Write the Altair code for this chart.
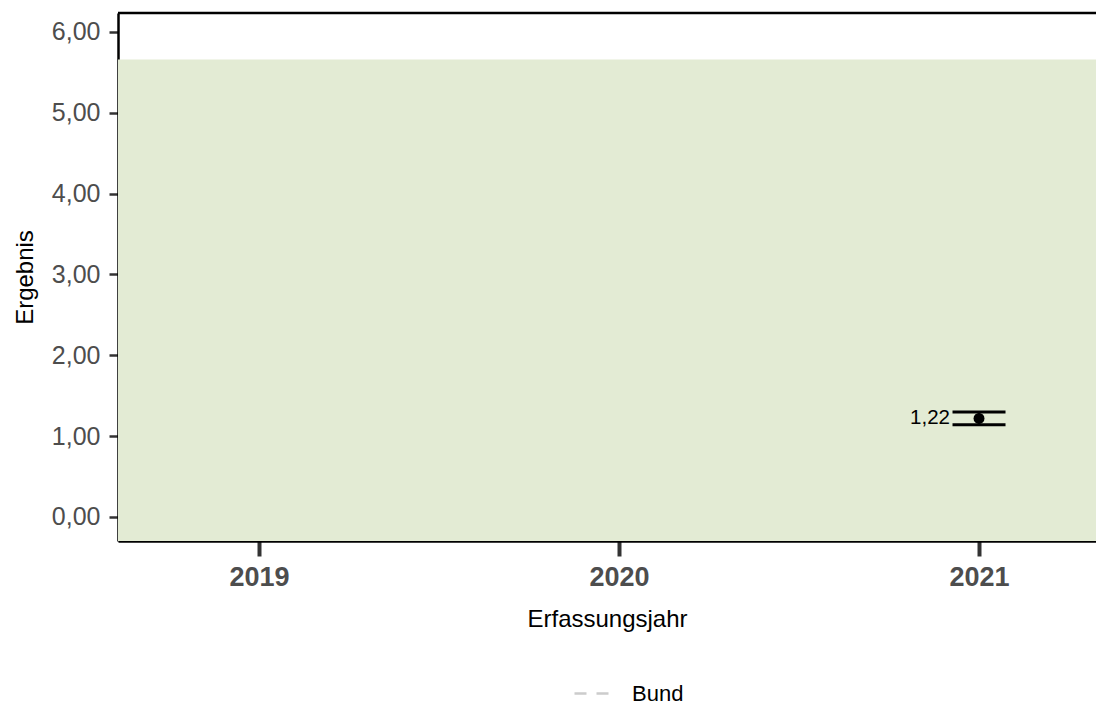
import altair as alt
import pandas as pd

# data
years = [2021]
values = [1.22]
lower = [1.14]
upper = [1.30]
band_low = [-1.0]
band_high = [5.66]
legend_series = ["Bund"]
x_ticks = [2019, 2020, 2021]
y_ticks = [0, 1, 2, 3, 4, 5, 6]

W, H = 978, 528
x_dom = [2018.608, 2021.325]
y_dom = [-0.297, 6.235]

pts = pd.DataFrame({"jahr": years, "wert": values, "lo": lower, "hi": upper})
band = pd.DataFrame({"x0": [1990.0], "x1": [2050.0], "y0": band_low, "y1": band_high})
leg = pd.DataFrame({"jahr": [2019.0], "wert": [None], "serie": legend_series})

xs = alt.Scale(domain=x_dom, nice=False, zero=False)
ys = alt.Scale(domain=y_dom, nice=False, zero=False)

x_axis = alt.Axis(values=x_ticks, labelExpr="format(datum.value, '.0f')", title="Erfassungsjahr")
y_axis = alt.Axis(values=y_ticks, labelExpr="replace(format(datum.value, '.2f'), '.', ',')", title="Ergebnis")


def X(f):
    return alt.X(f, scale=xs, axis=x_axis)


def Y(f):
    return alt.Y(f, scale=ys, axis=y_axis)


rect = alt.Chart(band).mark_rect(color="#e3ebd4", clip=True).encode(
    x=X("x0:Q"), x2="x1:Q", y=Y("y0:Q"), y2="y1:Q")

legend_line = alt.Chart(leg).mark_line(strokeWidth=2).encode(
    x=X("jahr:Q"),
    y=Y("wert:Q"),
    color=alt.Color("serie:N", scale=alt.Scale(domain=legend_series, range=["#cccccc"]),
                    legend=alt.Legend(title=None, orient="none", legendX=455, legendY=662,
                                      symbolType="stroke", symbolSize=1156, symbolDash=[12, 10],
                                      symbolStrokeWidth=2.5, symbolStrokeColor="#cccccc",
                                      labelFontSize=22, labelColor="#000000",
                                      labelOffset=22, padding=0)),
)

vline = alt.Chart(pts).mark_rule(color="black", strokeWidth=2.5, opacity=1).encode(
    x=X("jahr:Q"), y=Y("lo:Q"), y2="hi:Q")
cap_lo = alt.Chart(pts).mark_tick(color="black", orient="horizontal", size=53, thickness=3, opacity=1).encode(
    x=X("jahr:Q"), y=Y("lo:Q"))
cap_hi = alt.Chart(pts).mark_tick(color="black", orient="horizontal", size=53, thickness=3, opacity=1).encode(
    x=X("jahr:Q"), y=Y("hi:Q"))
point = alt.Chart(pts).mark_circle(color="black", opacity=1, size=120).encode(
    x=X("jahr:Q"), y=Y("wert:Q"))
label = alt.Chart(pts).transform_calculate(
    txt="replace(format(datum.wert, '.2f'), '.', ',')"
).mark_text(align="right", baseline="middle", dx=-29, fontSize=20.5, color="black", font="Liberation Sans").encode(
    x=X("jahr:Q"), y=Y("wert:Q"), text="txt:N")

top_rule = alt.Chart(pts).mark_rule(color="black", strokeWidth=2.5).encode(
    x=alt.value(0), x2=alt.value(W), y=alt.value(0))

chart = alt.layer(rect, legend_line, vline, cap_lo, cap_hi, point, label, top_rule).properties(
    width=W, height=H,
    autosize=alt.AutoSizeParams(type="none"),
    padding={"left": 110, "top": 5, "right": 0, "bottom": 163},
).configure_view(stroke=None).configure(font="Liberation Sans").configure_axisX(
    labelFontWeight="bold", labelFontSize=27, labelColor="#4d4d4d", labelPadding=8,
    tickSize=15, tickWidth=4, tickColor="#333333", domainColor="#000000", domainWidth=2.5,
    titleFontSize=24, titleFontWeight="normal", titleColor="#000000", titlePadding=17,
    grid=False,
).configure_axisY(
    labelFontSize=25, labelColor="#4d4d4d", labelPadding=9,
    tickSize=9, tickWidth=2.5, tickColor="#333333", domainColor="#000000", domainWidth=2.5,
    titleFontSize=24, titleFontWeight="normal", titleColor="#000000", titlePadding=14,
    grid=False,
)

chart.save("out.html", embed_options={"renderer": "svg", "actions": False})
